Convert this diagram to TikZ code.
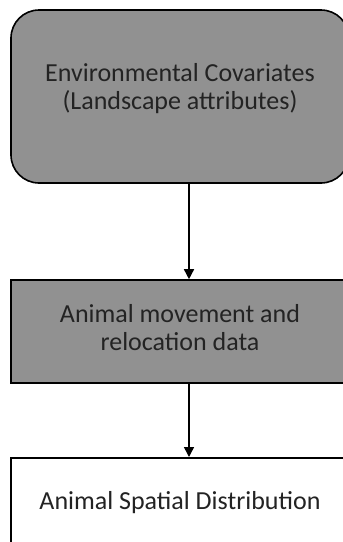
\documentclass[tikz,border=0pt]{standalone}
\usepackage{fontspec}
\setmainfont{Carlito}
\usetikzlibrary{arrows.meta}
\definecolor{boxgray}{RGB}{145,145,145}
\definecolor{textgray}{RGB}{35,35,35}

\tikzstyle{source}=[rectangle,rounded corners=28pt,minimum width=338pt,minimum height=173pt,text centered,align=center,draw=black,line width=1.6pt,fill=boxgray,text=textgray]
\tikzstyle{data}=[rectangle,minimum width=338pt,minimum height=103pt,text centered,align=center,draw=black,line width=1.6pt,fill=boxgray,text=textgray]
\tikzstyle{result}=[rectangle,minimum width=338pt,minimum height=92pt,text centered,align=center,draw=black,line width=1.6pt,fill=white,text=textgray]
\tikzstyle{link}=[line width=1.5pt,-{Triangle[width=10pt,length=10pt]}]

\begin{document}
\begin{tikzpicture}[x=1pt,y=-1pt,font=\fontsize{26}{28}\selectfont]
\useasboundingbox(0,0)rectangle(343,542);
\clip(0,0)rectangle(343,542);
\node(covariates)[source,text depth=21pt] at (180,96.5){Environmental Covariates\\(Landscape attributes)};
\node(movement)[data,text depth=9pt] at (180,331.5){Animal movement and\\relocation data};
\node(distribution)[result,anchor=north] at (180,457){\strut Animal Spatial Distribution};
\draw[link]([xshift=9pt]covariates.south)--([xshift=9pt]movement.north);
\draw[link]([xshift=9pt]movement.south)--([xshift=9pt]distribution.north);
\end{tikzpicture}
\end{document}
